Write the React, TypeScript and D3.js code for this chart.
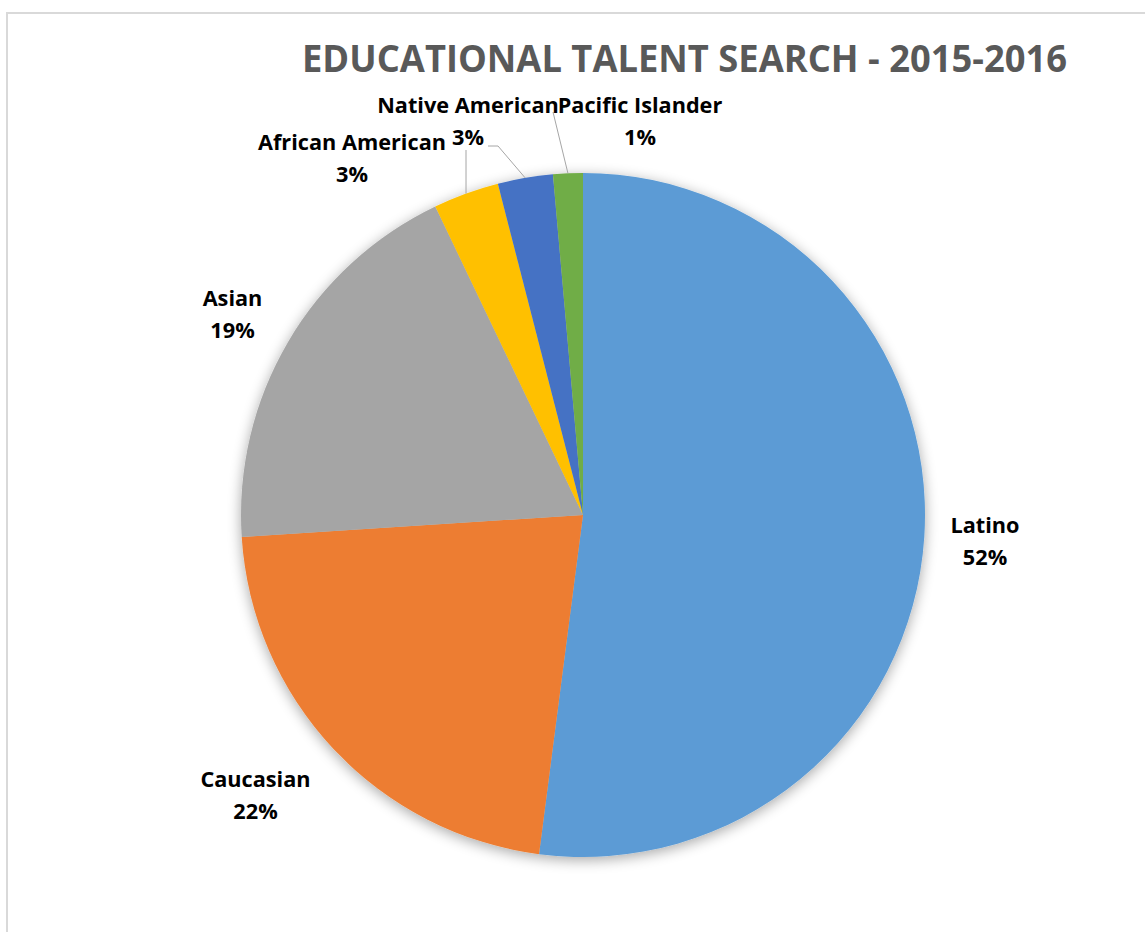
import React from "react";
import * as d3 from "d3";

const categories = ["Latino", "Caucasian", "Asian", "African American", "Native American", "Pacific Islander"];
const values = [52.0, 21.9, 18.9, 3.1, 2.6, 1.4];
const percentLabels = ["52%", "22%", "19%", "3%", "3%", "1%"];
const colors = ["#5B9BD5", "#ED7D31", "#A5A5A5", "#FFC000", "#4472C4", "#70AD47"];
const titleText = "EDUCATIONAL TALENT SEARCH - 2015-2016";

// label layout (anchor centre x, first baseline y) and optional leader start points
const labelPos: [number, number][] = [
  [985, 533],
  [255.5, 787],
  [232.5, 306],
  [352, 150],
  [468, 113],
  [640, 113],
];
const leaderStart: ([number, number][] | null)[] = [
  null,
  null,
  null,
  [[466, 150]],
  [[488, 146], [498, 146]],
  [[553, 112]],
];

const W = 1145;
const H = 932;
const cx = 583;
const cy = 515;
const R = 342;

export default function App() {
  const pie = d3.pie<number>().sort(null).value((d) => d);
  const arcs = pie(values);
  const arc = d3.arc<d3.PieArcDatum<number>>().innerRadius(0).outerRadius(R);
  const edgeArc = d3.arc<d3.PieArcDatum<number>>().innerRadius(R).outerRadius(R);
  const font = "'Open Sans', Lato, sans-serif";

  return (
    <svg
      width={W}
      height={H}
      style={{ position: "absolute", left: 0, top: 0, display: "block", background: "#fff" }}
    >
      <defs>
        <filter id="shadow" x="-20%" y="-20%" width="140%" height="140%">
          <feGaussianBlur in="SourceAlpha" stdDeviation="7" />
          <feOffset dx="0" dy="3" result="b" />
          <feComponentTransfer>
            <feFuncA type="linear" slope="0.35" />
          </feComponentTransfer>
          <feMerge>
            <feMergeNode />
            <feMergeNode in="SourceGraphic" />
          </feMerge>
        </filter>
      </defs>
      <rect x={7} y={13} width={1300} height={1100} fill="#fff" stroke="#d9d9d9" strokeWidth={2} />
      <text
        x={684.5}
        y={72}
        textAnchor="middle"
        fontFamily={font}
        fontWeight={700}
        fontSize={37}
        fill="#595959"
        textLength={765}
        lengthAdjust="spacingAndGlyphs"
      >
        {titleText}
      </text>
      <g transform={`translate(${cx},${cy})`} filter="url(#shadow)">
        {arcs.map((a, i) => (
          <path key={categories[i]} d={arc(a) || ""} fill={colors[i]} />
        ))}
      </g>
      {arcs.map((a, i) => {
        const st = leaderStart[i];
        if (!st) return null;
        const [ex, ey] = edgeArc.centroid(a);
        const pts = [...st, [cx + ex, cy + ey]];
        return (
          <path
            key={"l" + i}
            d={d3.line()(pts as [number, number][]) || ""}
            fill="none"
            stroke="#a6a6a6"
            strokeWidth={1}
          />
        );
      })}
      {categories.map((c, i) => (
        <text
          key={"t" + c}
          textAnchor="middle"
          fontFamily={font}
          fontWeight={700}
          fontSize={21.7}
          fill="#000"
        >
          <tspan x={labelPos[i][0]} y={labelPos[i][1]}>{c}</tspan>
          <tspan x={labelPos[i][0]} y={labelPos[i][1] + 32}>{percentLabels[i]}</tspan>
        </text>
      ))}
    </svg>
  );
}
